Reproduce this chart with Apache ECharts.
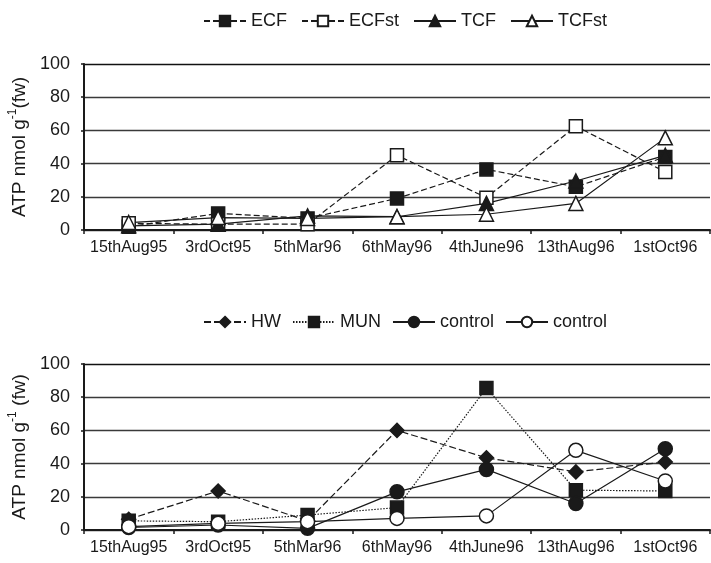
<!DOCTYPE html>
<html>
<head>
<meta charset="utf-8">
<script src="https://cdn.jsdelivr.net/npm/echarts@6/dist/echarts.min.js"></script>
<style>html,body{margin:0;padding:0;background:#fff;}#c{width:711px;height:563px;}</style>
</head>
<body>
<div id="c"></div>
<script>
const categories = ['15thAug95','3rdOct95','5thMar96','6thMay96','4thJune96','13thAug96','1stOct96'];
const yTicks = [0, 20, 40, 60, 80, 100];
// top panel
const ECF   = [2, 10, 7, 19, 36.5, 26, 44];
const ECFst = [4, 3.5, 3.5, 45, 19.5, 62.5, 35];
const TCF   = [2.5, 3.5, 8.5, 8, 16, 29.5, 45];
const TCFst = [4.5, 7.5, 7, 8, 9.5, 16, 55.5];
// bottom panel
const HW          = [6.5, 23.5, 5.5, 60, 43.5, 35, 41];
const MUN         = [5.5, 5, 9, 13.5, 85.5, 24, 23.5];
const controlFill = [1.5, 3, 1, 23, 36.5, 16, 49];
const controlOpen = [2, 4, 5, 7, 8.5, 48, 29.5];

const FONT = 'Liberation Sans, Arial, sans-serif';
const INK = '#1a1a1a';

function xAxis(idx) {
  return {
    type: 'category', gridIndex: idx, data: categories, boundaryGap: true,
    axisLine: {lineStyle: {color: INK, width: 2}},
    axisTick: {show: true, interval: 0, length: 4, lineStyle: {color: INK, width: 1.5}},
    axisLabel: {interval: 0, color: INK, fontFamily: FONT, fontSize: 16, margin: 10},
    splitLine: {show: false}
  };
}
function yAxis(idx, name) {
  return {
    type: 'value', gridIndex: idx, min: yTicks[0], max: yTicks[yTicks.length-1], interval: 20,
    name: name, nameLocation: 'middle', nameGap: 51, nameRotate: 90, nameMoveOverlap: false,
    nameTextStyle: {color: INK, fontFamily: FONT, fontSize: 19, lineHeight: 26,
      rich: {sup: {fontSize: 12, verticalAlign: 'top', lineHeight: 26, fontFamily: FONT, color: INK},
             n: {fontSize: 19, fontFamily: FONT, color: INK, lineHeight: 26}}},
    axisLine: {show: true, lineStyle: {color: INK, width: 2}},
    axisTick: {show: true, length: 3, lineStyle: {color: INK, width: 1.5}},
    axisLabel: {color: INK, fontFamily: FONT, fontSize: 18, margin: 14},
    splitLine: {show: true, lineStyle: {color: ['#3a3a3a', '#3a3a3a', '#3a3a3a', '#3a3a3a', '#3a3a3a', '#111'], width: 1.3}}
  };
}
function line(name, data, xi, symbol, filled, dash, size) {
  return {
    type: 'line', name: name, data: data, xAxisIndex: xi, yAxisIndex: xi,
    symbol: symbol, symbolSize: size || 13, showAllSymbol: true,
    lineStyle: {color: INK, width: 1.2, type: dash},
    itemStyle: {color: filled ? INK : '#fff', borderColor: INK, borderWidth: 1.5},
    emphasis: {disabled: true}, animation: false
  };
}
const tri = 'triangle';
const chart = echarts.init(document.getElementById('c'), null, {renderer: 'canvas'});
chart.setOption({
  backgroundColor: '#fff',
  animation: false,
  grid: [
    {left: 84, top: 64, width: 626, height: 166, show: false, containLabel: false, outerBoundsMode: 'none'},
    {left: 84, top: 364, width: 626, height: 166, show: false, containLabel: false, outerBoundsMode: 'none'}
  ],
  legend: [
    {left: 198, top: 7, itemWidth: 42, itemHeight: 13, itemGap: 14,
     textStyle: {color: INK, fontFamily: FONT, fontSize: 18},
     data: ['ECF', 'ECFst', 'TCF', 'TCFst']},
    {left: 198, top: 308, itemWidth: 42, itemHeight: 13, itemGap: 11,
     textStyle: {color: INK, fontFamily: FONT, fontSize: 18},
     formatter: n => n.trim(),
     data: ['HW', 'MUN', 'control', 'control ']}
  ],
  xAxis: [xAxis(0), xAxis(1)],
  yAxis: [yAxis(0, '{n|ATP nmol g}{sup|-1}{n|(fw)}'), yAxis(1, '{n|ATP nmol g}{sup|-1}{n| (fw)}')],
  series: [
    line('ECF', ECF, 0, 'rect', true, [6, 3]),
    line('ECFst', ECFst, 0, 'rect', false, [6, 3]),
    line('TCF', TCF, 0, tri, true, 'solid', 14),
    line('TCFst', TCFst, 0, tri, false, 'solid', 14),
    line('HW', HW, 1, 'diamond', true, [7, 3], 14),
    line('MUN', MUN, 1, 'rect', true, [1.5, 1.5]),
    line('control', controlFill, 1, 'circle', true, 'solid', 14),
    line('control ', controlOpen, 1, 'circle', false, 'solid', 14)
  ]
});
</script>
</body>
</html>
